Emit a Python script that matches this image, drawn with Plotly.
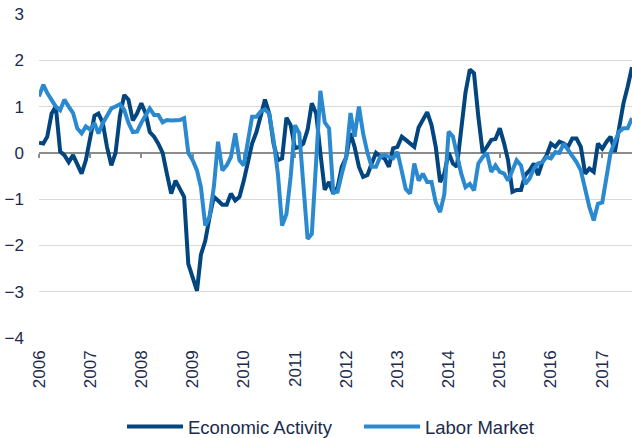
import pandas as pd
import plotly.graph_objects as go

start_month = "2006-01-01"

economic_activity = [
    0.22, 0.20, 0.35, 0.85, 1.00, 0.03, -0.05, -0.20, -0.05, -0.23, -0.45, -0.16,
    0.35, 0.80, 0.85, 0.65, 0.13, -0.27, 0.00, 0.80, 1.25, 1.15, 0.70, 0.85,
    1.07, 0.85, 0.45, 0.35, 0.20, 0.00, -0.45, -0.88, -0.60, -0.78, -0.95, -2.40,
    -2.70, -2.98, -2.20, -1.90, -1.40, -0.95, -1.03, -1.12, -1.12, -0.88, -1.03, -0.95,
    -0.60, -0.16, 0.20, 0.45, 0.80, 1.15, 0.85, 0.20, -0.16, -0.12, 0.76, 0.60,
    0.10, 0.13, 0.20, 0.50, 1.07, 0.85, 0.00, -0.80, -0.63, -0.88, -0.74, -0.30,
    -0.10, 0.42, 0.13, -0.30, -0.52, -0.48, -0.23, 0.00, -0.08, -0.12, -0.30, 0.10,
    0.13, 0.35, 0.28, 0.20, 0.13, 0.55, 0.70, 0.88, 0.60, 0.13, -0.63, -0.45,
    0.00, -0.23, -0.30, 0.57, 1.30, 1.80, 1.72, 0.78, 0.00, 0.13, 0.28, 0.30,
    0.53, 0.20, -0.16, -0.84, -0.80, -0.80, -0.48, -0.38, -0.23, -0.48, -0.20, -0.05,
    0.20, 0.13, 0.24, 0.20, 0.13, 0.31, 0.31, 0.13, -0.45, -0.34, -0.41, 0.20,
    0.09, 0.24, 0.35, 0.02, 0.57, 1.07, 1.43, 1.85,
]

labor_market = [
    1.22, 1.47, 1.29, 1.14, 1.00, 0.92, 1.15, 1.00, 0.86, 0.53, 0.42, 0.57,
    0.50, 0.64, 0.42, 0.64, 0.82, 0.96, 1.00, 1.05, 0.93, 0.65, 0.45, 0.46,
    0.65, 0.80, 0.96, 0.82, 0.82, 0.66, 0.71, 0.70, 0.71, 0.71, 0.75, 0.00,
    -0.16, -0.38, -0.74, -1.57, -1.39, -0.74, 0.24, -0.38, -0.27, -0.09, 0.42, -0.16,
    -0.27, 0.28, 0.78, 0.78, 0.89, 0.94, 0.85, 0.28, -0.45, -1.57, -1.32, -0.52,
    0.60, 0.42, -0.74, -1.86, -1.75, -0.20, 1.34, 0.66, 0.53, -0.85, -0.84, -0.45,
    -0.10, 0.86, 0.35, 1.00, 0.42, 0.00, -0.30, -0.30, -0.08, -0.05, -0.08, -0.12,
    0.02, -0.45, -0.78, -0.88, -0.23, -0.60, -0.45, -0.63, -0.63, -1.07, -1.28, -0.90,
    0.46, 0.35, -0.08, -0.45, -0.74, -0.67, -0.81, -0.23, -0.09, 0.00, -0.41, -0.27,
    -0.41, -0.45, -0.60, -0.38, -0.16, -0.27, -0.67, -0.56, -0.34, -0.23, -0.20, -0.09,
    -0.12, 0.02, 0.00, 0.20, 0.06, -0.05, -0.20, -0.38, -0.81, -1.17, -1.46, -1.10,
    -1.07, -0.52, 0.00, 0.24, 0.46, 0.53, 0.53, 0.75,
]

series_names = ["Economic Activity", "Labor Market"]
y_ticks = [3, 2, 1, 0, -1, -2, -3, -4]

dates = pd.date_range(start_month, periods=len(economic_activity), freq="MS")

DARK = "#02457f"
LIGHT = "#2b89cf"
TEXT = "#1c2b4b"
FONT = "Liberation Sans, Arial, sans-serif"

fig = go.Figure()
fig.add_trace(go.Scatter(x=dates, y=economic_activity, mode="lines", name=series_names[0],
                         line=dict(color=DARK, width=4)))
fig.add_trace(go.Scatter(x=dates, y=labor_market, mode="lines", name=series_names[1],
                         line=dict(color=LIGHT, width=4)))
# helper trace for the tick marks on the zero line
fig.add_trace(go.Scatter(x=dates, y=economic_activity, xaxis="x2", mode="lines",
                         line=dict(width=0), opacity=0, showlegend=False, hoverinfo="skip"))

xr = [dates[0], dates[-1]]
fig.update_layout(
    width=632, height=438,
    margin=dict(l=39, r=0, t=14, b=100, autoexpand=False),
    paper_bgcolor="white", plot_bgcolor="white",
    font=dict(family=FONT, color=TEXT, size=17),
    showlegend=True,
    legend=dict(orientation="h", xref="container", yref="container",
                x=0.193, xanchor="left", y=0.025, yanchor="middle",
                font=dict(size=18.5, color=TEXT), itemwidth=56,
                entrywidth=166, entrywidthmode="pixels"),
    xaxis=dict(type="date", range=xr, tickformat="%Y", dtick="M12", tick0=start_month,
               tickangle=-90, showgrid=False, zeroline=False, showline=False, ticks="",
               tickfont=dict(size=17, color=TEXT), ticklabelstandoff=8, automargin=False),
    xaxis2=dict(type="date", range=xr, overlaying="x", anchor="free", position=4/7,
                dtick="M12", tick0=start_month, showticklabels=False, ticks="outside",
                ticklen=4, tickwidth=2, tickcolor="#8c8c8c", showgrid=False,
                zeroline=False, showline=False, layer="below traces"),
    yaxis=dict(range=[-4, 3], tickvals=y_ticks, showgrid=True, gridcolor="#d9d9d9",
               gridwidth=1, zeroline=True, zerolinecolor="#8c8c8c", zerolinewidth=2,
               showline=False, ticks="", tickfont=dict(size=17, color=TEXT),
               ticklabelstandoff=14, automargin=False),
)

fig.write_html("out.html", config={"displayModeBar": False},
               post_script="document.body.style.margin='0';")
